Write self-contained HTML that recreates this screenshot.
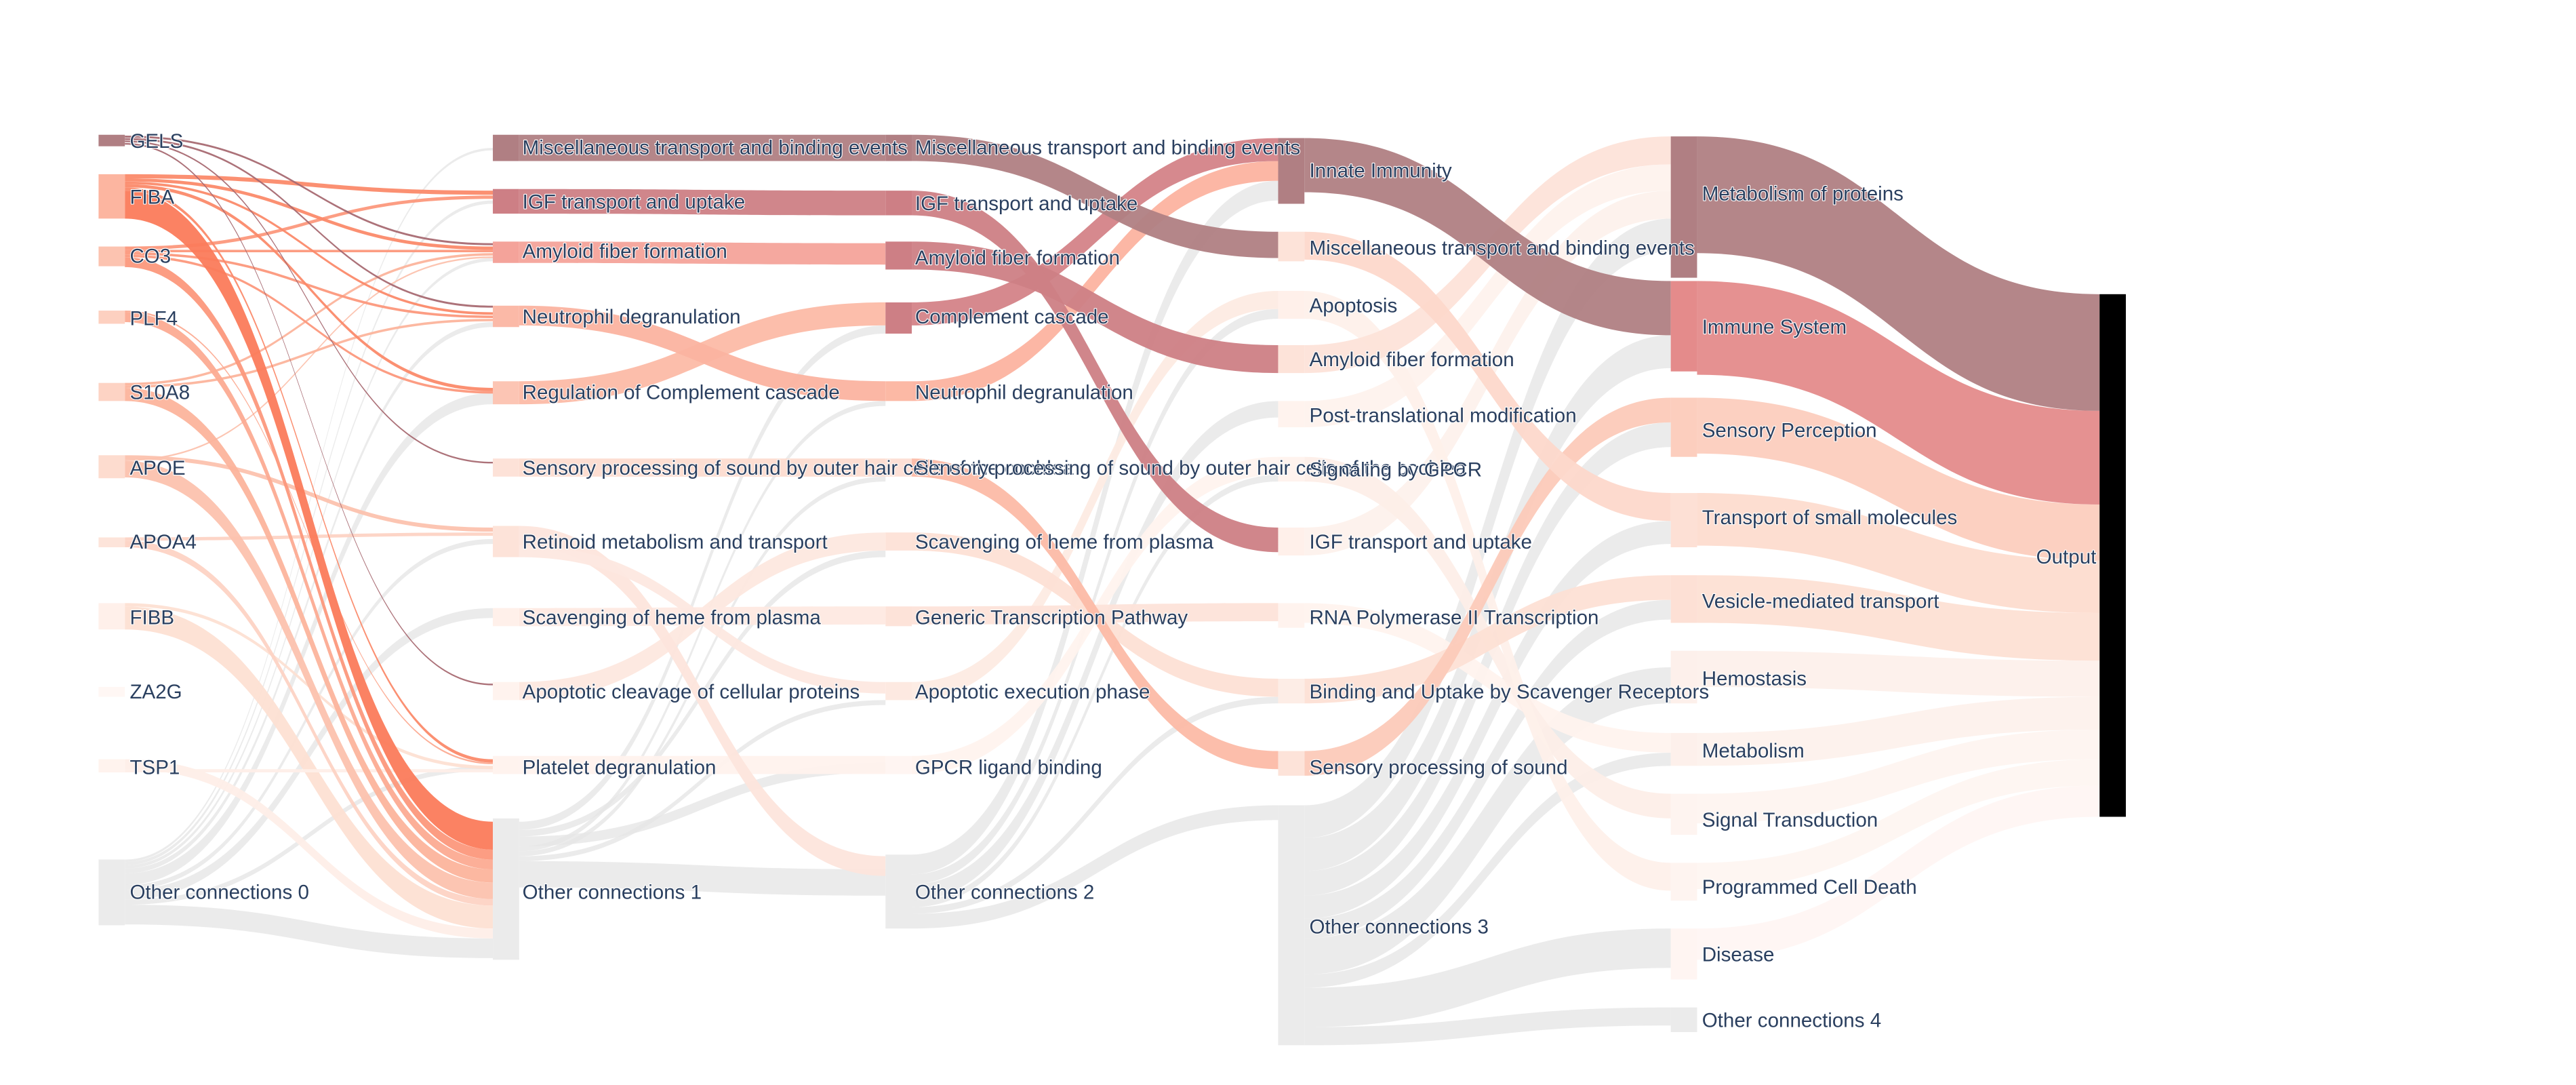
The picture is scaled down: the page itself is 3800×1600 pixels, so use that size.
<!DOCTYPE html>
<html><head><meta charset="utf-8"><style>
html,body{margin:0;padding:0;background:#fff;width:3800px;height:1600px;overflow:hidden}
svg{display:block}
text{font-family:"Liberation Sans",Arial,sans-serif;font-size:12.2px;fill:#2a3f5f;stroke:#fff;stroke-width:0.9px;paint-order:stroke;stroke-linejoin:round;dominant-baseline:central}
</style></head><body>
<svg id="s" width="3800" height="1600" viewBox="0 0 1568 660.2" xmlns="http://www.w3.org/2000/svg">
<g id="links"></g><g id="nodes"></g>
<g id="labels">
<text x="79" y="86">GELS</text>
<text x="79" y="120">FIBA</text>
<text x="79" y="156">CO3</text>
<text x="79" y="194">PLF4</text>
<text x="79" y="239">S10A8</text>
<text x="79" y="285">APOE</text>
<text x="79" y="330">APOA4</text>
<text x="79" y="376">FIBB</text>
<text x="79" y="421">ZA2G</text>
<text x="79" y="467">TSP1</text>
<text x="79" y="543">Other connections 0</text>
<text x="318" y="90">Miscellaneous transport and binding events</text>
<text x="318" y="123">IGF transport and uptake</text>
<text x="318" y="153">Amyloid fiber formation</text>
<text x="318" y="193">Neutrophil degranulation</text>
<text x="318" y="239">Regulation of Complement cascade</text>
<text x="318" y="285">Sensory processing of sound by outer hair cells of the cochlea</text>
<text x="318" y="330">Retinoid metabolism and transport</text>
<text x="318" y="376">Scavenging of heme from plasma</text>
<text x="318" y="421">Apoptotic cleavage of cellular proteins</text>
<text x="318" y="467">Platelet degranulation</text>
<text x="318" y="543">Other connections 1</text>
<text x="557" y="90">Miscellaneous transport and binding events</text>
<text x="557" y="124">IGF transport and uptake</text>
<text x="557" y="157">Amyloid fiber formation</text>
<text x="557" y="193">Complement cascade</text>
<text x="557" y="239">Neutrophil degranulation</text>
<text x="557" y="285">Sensory processing of sound by outer hair cells of the cochlea</text>
<text x="557" y="330">Scavenging of heme from plasma</text>
<text x="557" y="376">Generic Transcription Pathway</text>
<text x="557" y="421">Apoptotic execution phase</text>
<text x="557" y="467">GPCR ligand binding</text>
<text x="557" y="543">Other connections 2</text>
<text x="797" y="104">Innate Immunity</text>
<text x="797" y="151">Miscellaneous transport and binding events</text>
<text x="797" y="186">Apoptosis</text>
<text x="797" y="219">Amyloid fiber formation</text>
<text x="797" y="253">Post-translational modification</text>
<text x="797" y="286">Signaling by GPCR</text>
<text x="797" y="330">IGF transport and uptake</text>
<text x="797" y="376">RNA Polymerase II Transcription</text>
<text x="797" y="421">Binding and Uptake by Scavenger Receptors</text>
<text x="797" y="467">Sensory processing of sound</text>
<text x="797" y="564">Other connections 3</text>
<text x="1036" y="118">Metabolism of proteins</text>
<text x="1036" y="199">Immune System</text>
<text x="1036" y="262">Sensory Perception</text>
<text x="1036" y="315">Transport of small molecules</text>
<text x="1036" y="366">Vesicle-mediated transport</text>
<text x="1036" y="413">Hemostasis</text>
<text x="1036" y="457">Metabolism</text>
<text x="1036" y="499">Signal Transduction</text>
<text x="1036" y="540">Programmed Cell Death</text>
<text x="1036" y="581">Disease</text>
<text x="1036" y="621">Other connections 4</text>
<text x="1276" y="339" text-anchor="end">Output</text>
</g>
</svg>
<script>
var NS="http://www.w3.org/2000/svg";
var C=[[60,76],[300,316],[539,555],[778,794],[1017,1033],[1278,1294]];
var L=[
[0,523,90,1.5,"#e6e6e6"],[0,524.5,122,2,"#e6e6e6"],[0,526.5,157,2,"#e6e6e6"],[0,528.5,196,3,"#e6e6e6"],[0,531.5,239,7,"#e6e6e6"],[0,538.5,328,3,"#e6e6e6"],[0,541.5,370,6,"#e6e6e6"],[0,547.5,466,3,"#e6e6e6"],[0,550.5,571,12,"#e6e6e6"],
[0,369,551,14,"#fde0d3"],[0,367,466,2,"#fde0d3"],[0,462,565,6,"#feeee8"],[0,468,468,2,"#feeee8"],
[0,327,324,2,"#fdd3c4"],[0,329,547,4,"#fdd3c4"],
[0,277,321,2.5,"#fcc2ae"],[0,279.5,156,1,"#fcc2ae"],[0,280.5,537,10,"#fcc2ae"],
[0,233,154,1.5,"#fcb49c"],[0,234.5,194,1.5,"#fcb49c"],[0,236,529,8,"#fcb49c"],
[0,189,464,1,"#fcab92"],[0,190,523,6,"#fcab92"],
[0,150,119,2,"#fc987c"],[0,152,152,1.5,"#fc987c"],[0,153.5,192,1.5,"#fc987c"],[0,155,238,1.5,"#fc987c"],[0,156.5,517,6,"#fc987c"],
[0,106,116,2.5,"#fb8a6a"],[0,108.5,150,2,"#fb8a6a"],[0,110.5,190,1.5,"#fb8a6a"],[0,112,236,2,"#fb8a6a"],[0,114,462,2,"#fb8a6a"],[0,116,500,17,"#fb7b5b"],
[0,82.5,148,1.2,"#a86a72"],[0,84,186,1.2,"#a86a72"],[0,85.5,281,1,"#a86a72"],[0,87,416,1,"#a86a72"],
[1,500,198,5,"#e6e6e6"],[1,505,335,4,"#e6e6e6"],[1,509,464,6,"#e6e6e6"],[1,515,244,3,"#e6e6e6"],[1,518,290,3,"#e6e6e6"],[1,521,426,3,"#e6e6e6"],[1,524,529,16,"#e6e6e6"],
[1,460,460,11,"#fff2ed"],[1,415,324,11,"#fde8df"],[1,370,369,11,"#fee9e1"],
[1,320,521,12,"#fde5dc"],[1,332,415,7,"#fde8e0"],[1,279,279,11,"#fddcd0"],
[1,232,184,14,"#fcbba7"],[1,186,232,12,"#fbb3a0"],
[1,147,148,13,"#f4a39a"],[1,115,116,15,"#cd7f85"],[1,82,82,16,"#b07f83"],
[2,520,110,12,"#e6e6e6"],[2,532,188,6,"#e6e6e6"],[2,538,244,10,"#e6e6e6"],[2,548,289,4,"#e6e6e6"],[2,552,424,4,"#e6e6e6"],[2,556,490,9,"#e6e6e6"],
[2,460,278,11,"#fff3ee"],[2,415,177,11,"#fdebe3"],[2,369,367,11,"#fde3d9"],[2,324,413,11,"#fde0d5"],[2,279,457,11,"#fcbaa6"],
[2,232,98,12,"#fcb3a0"],[2,184,84,14,"#d48388"],[2,147,210,17,"#cd7f85"],[2,116,321,15,"#cd7f85"],[2,82,141,16,"#b07f83"],
[3,490,133,20,"#e6e6e6"],[3,510,204,20,"#e6e6e6"],[3,530,257,15,"#e6e6e6"],[3,545,317,14,"#e6e6e6"],[3,559,365,12,"#e6e6e6"],[3,571,406,22,"#e6e6e6"],[3,593,458,8,"#e6e6e6"],[3,601,565,24,"#e6e6e6"],[3,625,613,11,"#e6e6e6"],
[3,367,446,12,"#fff3ee"],[3,321,116,17,"#fdf1ec"],[3,278,483,15,"#fdeee8"],[3,244,100,16,"#fef2ed"],[3,177,525,17,"#fef0ea"],[3,210,83,17,"#fde3d9"],
[3,413,350,15,"#fde0d5"],[3,457,242,15,"#fccab9"],[3,141,300,17,"#fdd8cb"],[3,84,171,33,"#b07f83"],
[4,565,478,19,"#fff6f3"],[4,525,462,16,"#fef5f1"],[4,483,444,18,"#fef4f0"],[4,446,424,20,"#fdf1ec"],[4,396,402,22,"#fdf0eb"],
[4,350,373,29,"#fde0d4"],[4,300,341,32,"#fddccf"],[4,242,307,34,"#fccebe"],[4,171,250,57,"#e48b8b"],[4,83,179,71,"#b07f83"]
];
var g=document.getElementById("links");
L.forEach(function(l){
 var x0=C[l[0]][1],x1=C[l[0]+1][0],y0=l[1],y1=l[2],w=l[3],xm=(x0+x1)/2;
 var d="M"+x0+","+y0+"C"+xm+","+y0+" "+xm+","+y1+" "+x1+","+y1+"L"+x1+","+(y1+w)+"C"+xm+","+(y1+w)+" "+xm+","+(y0+w)+" "+x0+","+(y0+w)+"Z";
 var p=document.createElementNS(NS,"path");p.setAttribute("d",d);p.setAttribute("fill",l[4]);
 p.setAttribute("fill-opacity",l[4]=="#e6e6e6"?"0.8":"0.95");g.appendChild(p);
});
var N=[
[0,82,89,"#b07f83"],[0,106,133,"#fcb5a0"],[0,150,162,"#fcc3b0"],[0,189,197,"#fdd0c0"],[0,233,244,"#fdd3c4"],[0,277,291,"#fddccf"],[0,327,333,"#fde4da"],[0,367,383,"#fff0ea"],[0,418,424,"#fff7f4"],[0,462,470,"#fff3ee"],[0,523,563,"#ebebeb"],
[1,82,98,"#b07f83"],[1,115,130,"#cd7f85"],[1,147,160,"#f4a39a"],[1,186,199,"#fbb9a7"],[1,232,246,"#fcc5b4"],[1,279,290,"#fde2d8"],[1,320,339,"#fde3d9"],[1,370,381,"#fff0ea"],[1,415,426,"#fff3ee"],[1,460,471,"#fff3ee"],[1,498,584,"#ebebeb"],
[2,82,98,"#b07f83"],[2,116,131,"#cd7f85"],[2,147,164,"#cd7f85"],[2,184,203,"#cd7f85"],[2,232,244,"#fcb9a5"],[2,279,290,"#fde0d6"],[2,324,335,"#fde3d9"],[2,369,381,"#fde3d9"],[2,415,426,"#fde9e1"],[2,460,471,"#fff5f2"],[2,520,565,"#ebebeb"],
[3,84,124,"#b07f83"],[3,141,159,"#fde3d9"],[3,177,194,"#fff0ea"],[3,210,227,"#fde3d9"],[3,244,260,"#fff3ee"],[3,278,293,"#fff3ee"],[3,321,338,"#fff0ea"],[3,367,382,"#fff3ee"],[3,413,428,"#fdede6"],[3,457,472,"#fde3d9"],[3,490,636,"#ebebeb"],
[4,83,169,"#b07f83"],[4,171,226,"#e48b8b"],[4,242,278,"#fccebe"],[4,300,333,"#fde0d5"],[4,350,379,"#fde0d5"],[4,396,428,"#fdf0eb"],[4,446,466,"#fdf0eb"],[4,483,508,"#fef4f0"],[4,525,548,"#fef4f0"],[4,565,596,"#fff5f2"],[4,613,628,"#ebebeb"],
[5,179,497,"#000000"]
];
var gn=document.getElementById("nodes");
N.forEach(function(n){
 var r=document.createElementNS(NS,"rect");r.setAttribute("x",C[n[0]][0]);r.setAttribute("y",n[1]);
 r.setAttribute("width",16);r.setAttribute("height",n[2]-n[1]);r.setAttribute("fill",n[3]);gn.appendChild(r);
});
</script>
</body></html>
